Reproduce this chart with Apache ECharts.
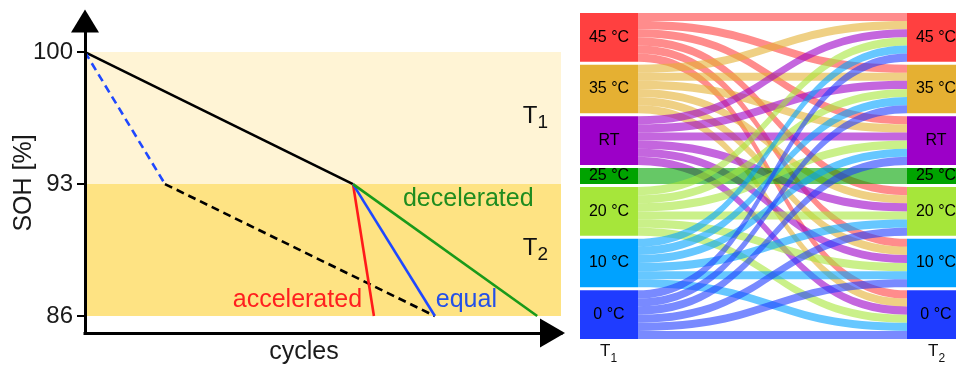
<!DOCTYPE html>
<html>
<head>
<meta charset="utf-8">
<script src="https://cdn.jsdelivr.net/npm/echarts@6/dist/echarts.min.js"></script>
<style>
  html, body { margin: 0; padding: 0; background: #fff; }
  #chart { width: 956px; height: 365px; }
</style>
</head>
<body>
<div id="chart"></div>
<script>
const FONT = '"Liberation Sans", Arial, sans-serif';

// left panel: SOH over cycles (schematic, cycles in arbitrary units 0..100)
const sohTicks = [86, 93, 100];
const bandT1 = [93, 100];
const bandT2 = [86, 93];
const cyclesRange = [0, 100];

const pathT1 = [[0, 100], [56.3, 93]];
const pathT1Fast = [[0, 100], [16.8, 93]];
const pathT2Ref = [[16.8, 93], [73.5, 86]];
const pathAccelerated = [[56.3, 93], [60.7, 86]];
const pathEqual = [[56.3, 93], [73.5, 86]];
const pathDecelerated = [[56.3, 93], [95, 86]];

const noteTexts = ['accelerated', 'equal', 'decelerated'];
const noteAnchors = [[58.2, 86.85], [73.7, 86.85], [66.8, 92.2]];

// right panel: temperature changes T1 -> T2
const temps = ['45 °C', '35 °C', 'RT', '25 °C', '20 °C', '10 °C', '0 °C'];
const tempColors = ['#ff4040', '#e5b032', '#9c00c8', '#00a300', '#a6e63a', '#00a2ff', '#1f3cff'];
// rows = T1, columns = T2
const transitions = [
  [1, 1, 1, 0, 1, 1, 1],
  [1, 1, 1, 0, 1, 1, 1],
  [1, 1, 1, 0, 1, 1, 1],
  [0, 0, 0, 2, 0, 0, 0],
  [1, 1, 1, 0, 1, 1, 1],
  [1, 1, 1, 0, 1, 1, 1],
  [1, 1, 1, 0, 1, 1, 1],
];

const sankeyNodes = [];
["T1", "T2"].forEach((stage) => {
  temps.forEach((t, i) => {
    sankeyNodes.push({ name: `${stage} ${t}`, itemStyle: { color: tempColors[i] } });
  });
});
const sankeyLinks = [];
transitions.forEach((row, i) => {
  row.forEach((value, j) => {
    if (value > 0) {
      sankeyLinks.push({ source: `T1 ${temps[i]}`, target: `T2 ${temps[j]}`, value });
    }
  });
});

function lineSeries(data, color, dashed) {
  return {
    type: "line",
    data,
    symbol: "none",
    silent: true,
    lineStyle: { color, width: 2.6, type: dashed ? [8, 5] : "solid" },
    z: 3,
  };
}

const subRich = {
  t: { fontSize: 24, color: "#111", fontFamily: FONT },
  s: { fontSize: 19, color: "#111", fontFamily: FONT, padding: [14, 0, 0, 0] },
};

const chart = echarts.init(document.getElementById("chart"), null, { renderer: "canvas" });

chart.setOption({
  animation: false,
  textStyle: { fontFamily: FONT },
  grid: { left: 85, top: 21, width: 476, height: 312, containLabel: false, outerBoundsMode: "none" },
  xAxis: {
    type: "value",
    min: cyclesRange[0],
    max: cyclesRange[1],
    z: 4,
    name: "cycles",
    nameLocation: "middle",
    nameGap: 7,
    nameMoveOverlap: false,
    nameTextStyle: { fontSize: 25, color: "#1a1a1a", verticalAlign: "top", padding: [0, 38, 0, 0] },
    axisLine: {
      onZero: false,
      symbol: ["none", "triangle"],
      symbolSize: [29, 25],
      symbolOffset: [0, -8.5],
      lineStyle: { color: "#000", width: 3, cap: "square" },
    },
    axisTick: { show: false },
    axisLabel: { show: false },
    splitLine: { show: false },
  },
  yAxis: {
    type: "value",
    min: 85.1,
    max: 101.65,
    z: 4,
    name: "SOH [%]",
    nameLocation: "middle",
    nameGap: 48,
    nameMoveOverlap: false,
    nameTextStyle: { fontSize: 25, color: "#1a1a1a", padding: [0, 12, 0, 0] },
    axisLine: {
      show: true,
      onZero: false,
      symbol: ["none", "triangle"],
      symbolSize: [28, 23],
      symbolOffset: [0, 0],
      lineStyle: { color: "#000", width: 3, cap: "square" },
    },
    axisTick: { show: true, customValues: sohTicks, length: 8, lineStyle: { color: "#000", width: 2 } },
    axisLabel: { customValues: sohTicks, fontSize: 24, margin: 12, color: "#1a1a1a" },
    splitLine: { show: false },
  },
  series: [
    {
      ...lineSeries(pathT1, "#000", false),
      markArea: {
        silent: true,
        label: { show: true, position: "insideRight", distance: 13, offset: [0, -2], rich: subRich },
        data: [
          [
            { xAxis: cyclesRange[0], yAxis: bandT1[0], itemStyle: { color: "#fff4d5" }, label: { formatter: "{t|T}{s|1}" } },
            { xAxis: cyclesRange[1], yAxis: bandT1[1] },
          ],
          [
            { xAxis: cyclesRange[0], yAxis: bandT2[0], itemStyle: { color: "#fee383" }, label: { formatter: "{t|T}{s|2}" } },
            { xAxis: cyclesRange[1], yAxis: bandT2[1] },
          ],
        ],
      },
    },
    lineSeries(pathT1Fast, "#1f48ff", true),
    lineSeries(pathT2Ref, "#000", true),
    lineSeries(pathAccelerated, "#ff1a1a", false),
    lineSeries(pathEqual, "#1f48ff", false),
    lineSeries(pathDecelerated, "#1a9a1a", false),
    {
      type: "sankey",
      left: 580,
      top: 13,
      width: 385,
      height: 326,
      nodeWidth: 58,
      nodeGap: 3,
      layoutIterations: 0,
      draggable: false,
      emphasis: { disabled: true },
      label: {
        show: true,
        position: "inside",
        color: "#000",
        fontSize: 16,
        fontFamily: FONT,
        formatter: (p) => p.name.slice(3),
      },
      itemStyle: { borderWidth: 0 },
      lineStyle: { color: "source", opacity: 0.6, curveness: 0.5 },
      data: sankeyNodes,
      links: sankeyLinks,
    },
  ],
});

// text notes anchored in data coordinates of the left panel
const noteColors = ["#ff1f1f", "#2450e8", "#1f8c1f"];
const noteAlign = ["right", "left", "left"];
const notes = noteTexts.map((text, i) => {
  const pt = chart.convertToPixel({ seriesIndex: 0 }, noteAnchors[i]);
  return {
    type: "text",
    x: pt[0],
    y: pt[1],
    silent: true,
    z: 10,
    style: { text, fill: noteColors[i], fontSize: 25, fontFamily: FONT, align: noteAlign[i], verticalAlign: "middle" },
  };
});

// stage labels under the sankey columns
const stageLabels = [
  { x: 600, sub: "1" },
  { x: 928, sub: "2" },
].flatMap((s) => [
  { type: "text", x: s.x, y: 351, style: { text: "T", fill: "#111", fontSize: 17, fontFamily: FONT, verticalAlign: "middle" } },
  { type: "text", x: s.x + 10.5, y: 359, style: { text: s.sub, fill: "#111", fontSize: 12, fontFamily: FONT, verticalAlign: "middle" } },
]);

chart.setOption({ graphic: [...notes, ...stageLabels] });
</script>
</body>
</html>
